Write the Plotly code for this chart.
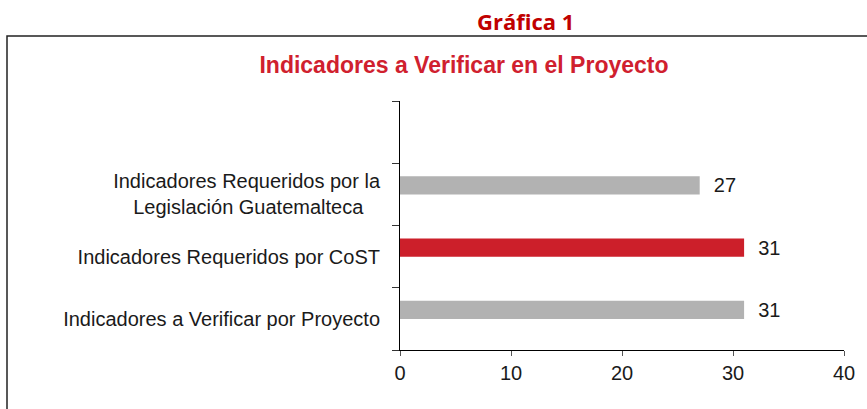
import plotly.graph_objects as go

# datos de la gráfica
categorias = [
    "Indicadores a Verificar por Proyecto",
    "Indicadores Requeridos por CoST",
    "Indicadores Requeridos por la<br>Legislación Guatemalteca\u00a0\u00a0\u00a0",
    " ",
]
valores = [31, 31, 27]
colores = ["#B2B2B2", "#CC1F2A", "#B2B2B2"]

W, H = 867, 409
L, R, T, B = 400, 23, 101, 59
pw = W - L - R
ph = H - T - B


def px_x(x):
    return (x - L) / pw


def px_y(y):
    return (H - B - y) / ph


fig = go.Figure()

fig.add_trace(
    go.Bar(
        x=valores,
        y=categorias[:3],
        orientation="h",
        marker=dict(color=colores, line=dict(width=0)),
        width=0.29,
        offset=0,
        text=valores,
        texttemplate="\u00a0\u00a0%{text}",
        textposition="outside",
        constraintext="none",
        textfont=dict(family="Liberation Sans, Arial", size=20, color="#1a1a1a"),
        cliponaxis=False,
        showlegend=False,
    )
)

# marco exterior
fig.add_shape(
    type="rect",
    xref="paper",
    yref="paper",
    x0=px_x(7),
    x1=px_x(880),
    y0=px_y(36),
    y1=px_y(430),
    line=dict(color="#222222", width=1.5),
    layer="below",
)

fig.add_annotation(
    text="<b>Gráfica 1</b>",
    xref="paper",
    yref="paper",
    x=px_x(525),
    y=px_y(21),
    xanchor="center",
    yanchor="middle",
    showarrow=False,
    font=dict(family="Open Sans, Noto Sans", size=22, color="#C00000"),
)

fig.update_layout(
    width=W,
    height=H,
    margin=dict(l=L, r=R, t=T, b=B),
    paper_bgcolor="white",
    plot_bgcolor="white",
    title=dict(
        text="<b>Indicadores a Verificar en el Proyecto</b>",
        x=464 / W,
        xanchor="center",
        y=1 - 65 / H,
        yanchor="middle",
        font=dict(family="Liberation Sans, Arial", size=23, color="#D0202E"),
    ),
    font=dict(family="Liberation Sans, Arial", size=20, color="#1a1a1a"),
    xaxis=dict(
        range=[0, 40],
        dtick=10,
        showgrid=False,
        zeroline=False,
        showline=True,
        linecolor="black",
        linewidth=1,
        ticks="outside",
        ticklen=5,
        tickcolor="#555555",
        tickfont=dict(size=20),
    ),
    yaxis=dict(
        type="category",
        categoryorder="array",
        categoryarray=categorias,
        range=[-0.5, 3.5],
        tickson="boundaries",
        showgrid=False,
        zeroline=False,
        showline=True,
        linecolor="black",
        linewidth=1,
        ticks="outside",
        ticklen=7,
        tickcolor="#333333",
        ticklabelstandoff=15,
        tickfont=dict(size=20),
    ),
)

fig.write_html(
    "out.html",
    config={"displayModeBar": False},
    post_script="document.body.style.margin='0';",
)
